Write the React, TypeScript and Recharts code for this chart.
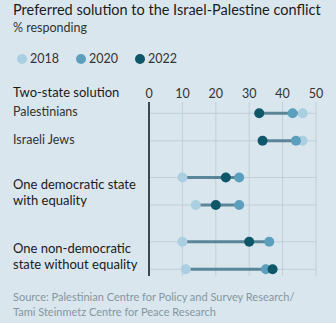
import { ComposedChart, Scatter, XAxis, YAxis, CartesianGrid, ReferenceLine } from 'recharts'

const years = ['2018', '2020', '2022']
const colors = ['#a9cfe0', '#5c9fbc', '#0d5769']
const respondents = ['Palestinians', 'Israeli Jews']
const v2018 = [46, 46, 10, 14, 10, 11]
const v2020 = [43, 44, 27, 27, 36, 35]
const v2022 = [33, 34, 23, 20, 30, 37]
const xTicks = [0, 10, 20, 30, 40, 50]

const font = 'Lato, "Noto Sans", sans-serif'

// row slot: 3 units between respondents, 7 between solution groups
const slot = (i: number) => Math.floor(i / 2) * 7 + (i % 2) * 3
const series = [v2018, v2020, v2022]
const points = series.map(vals => vals.map((x, i) => ({ x, y: slot(i) })))
const ranges = v2018.map((_, i) => {
  const all = series.map(s => s[i])
  return { y: slot(i), lo: Math.min(...all), hi: Math.max(...all) }
})

const dot = (fill: string) => (p: any) => <circle cx={p.cx} cy={p.cy} r={5} fill={fill} />

const txt = (top: number, size: number, color: string, extra: any = {}) => ({
  position: 'absolute' as const,
  left: 13,
  top,
  fontSize: size,
  color,
  lineHeight: 1,
  whiteSpace: 'nowrap' as const,
  ...extra,
})

export default function App() {
  return (
    <div style={{ position: 'absolute', left: 0, top: 0, width: 336, height: 323, background: '#d9e6ee', fontFamily: font, overflow: 'hidden' }}>
      <div style={txt(3, 14.5, '#1c1c1c')}>Preferred solution to the Israel-Palestine conflict</div>
      <div style={txt(22, 12.5, '#333')}>% responding</div>
      <div style={{ position: 'absolute', left: 17, top: 53, display: 'flex', fontSize: 12.5, color: '#333', lineHeight: 1 }}>
        {years.map((y, i) => (
          <span key={y} style={{ display: 'flex', alignItems: 'center', width: 59 }}>
            <span style={{ width: 10, height: 10, borderRadius: 5, background: colors[i], marginRight: 3 }} />
            {y}
          </span>
        ))}
      </div>

      <ComposedChart width={336} height={323} margin={{ top: 82, right: 20, left: 149, bottom: 47 }} style={{ position: 'absolute', left: 0, top: 0 }}>
        <CartesianGrid horizontal={false} stroke="#bfcfd9" strokeWidth={1} />
        <XAxis
          type="number"
          dataKey="x"
          orientation="top"
          domain={[0, 50]}
          ticks={xTicks}
          height={20}
          tickSize={0}
          tickMargin={4}
          axisLine={false}
          tickLine={false}
          tick={{ fill: '#333', fontSize: 12.5, fontFamily: font }}
        />
        <YAxis type="number" dataKey="y" domain={[-1.23, 17.73]} reversed hide />
        {ranges.map(r => (
          <ReferenceLine key={'g' + r.y} segment={[{ x: 0, y: r.y }, { x: 50, y: r.y }]} stroke="#bfcfd9" strokeWidth={1} />
        ))}
        <ReferenceLine x={0} stroke="#3a4850" strokeWidth={2} />
        {ranges.map(r => (
          <ReferenceLine key={'r' + r.y} segment={[{ x: r.lo, y: r.y }, { x: r.hi, y: r.y }]} stroke="#5b8599" strokeWidth={3} />
        ))}
        {points.map((pts, i) => (
          <Scatter key={years[i]} data={pts} isAnimationActive={false} shape={dot(colors[i])} />
        ))}
      </ComposedChart>

      <div style={txt(86, 13, '#1a1a1a')}>Two-state solution</div>
      <div style={txt(106, 12.5, '#333')}>{respondents[0]}</div>
      <div style={txt(134, 12.5, '#333')}>{respondents[1]}</div>
      <div style={txt(176, 13, '#1a1a1a', { lineHeight: '16px' })}>One democratic state<br />with equality</div>
      <div style={txt(240, 13, '#1a1a1a', { lineHeight: '16px' })}>One non-democratic<br />state without equality</div>
      <div style={txt(289, 11, '#8596a0', { lineHeight: '15px' })}>
        Source: Palestinian Centre for Policy and Survey Research/<br />Tami Steinmetz Centre for Peace Research
      </div>
    </div>
  )
}
